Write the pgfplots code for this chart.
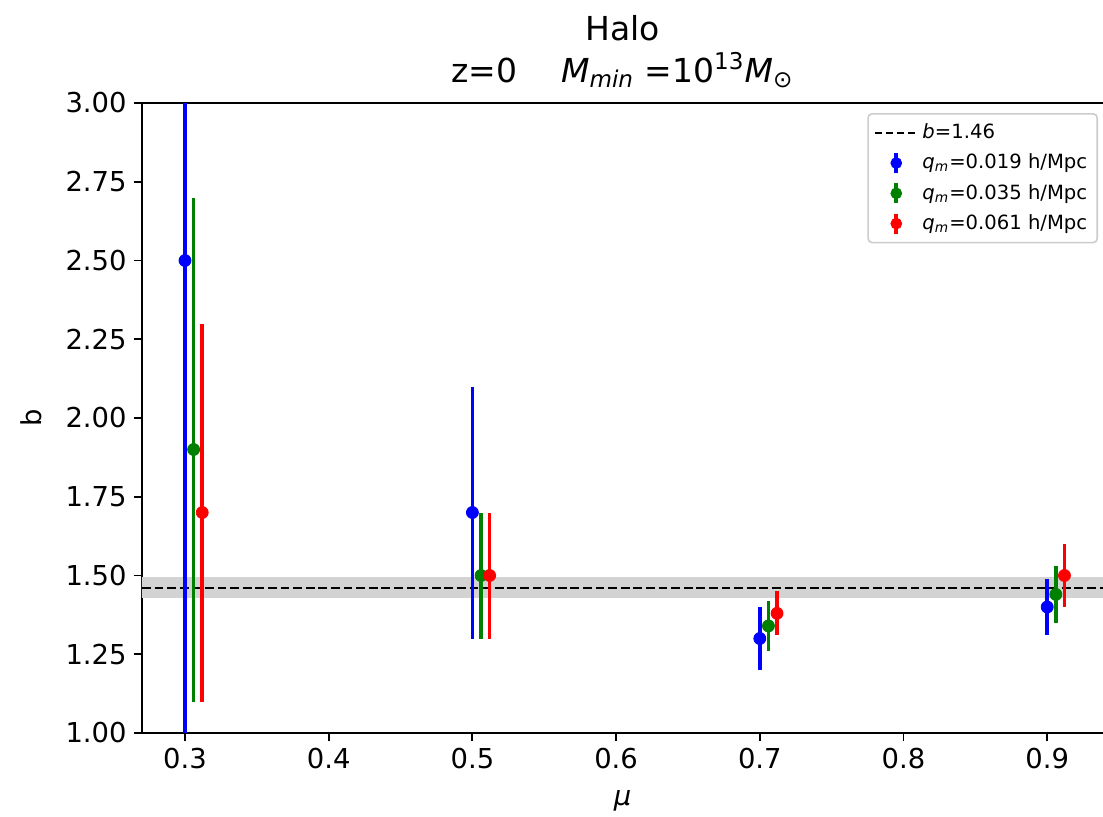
\documentclass[border=0pt]{standalone}
\usepackage{pgfplots}
\pgfplotsset{compat=1.18}
\usepackage{fontspec}
\setmainfont{DejaVu Sans}
\usetikzlibrary{calc}
\definecolor{mblue}{RGB}{0,0,255}
\definecolor{mgreen}{RGB}{0,128,0}
\definecolor{mred}{RGB}{255,0,0}
\definecolor{band}{RGB}{211,211,211}
\definecolor{legframe}{RGB}{204,204,204}

\pgfplotstableread{
x y e
0.300 2.50 1.50
0.500 1.70 0.40
0.700 1.30 0.10
0.900 1.40 0.09
}\blue
\pgfplotstableread{
x y e
0.306 1.90 0.80
0.506 1.50 0.20
0.706 1.34 0.08
0.906 1.44 0.09
}\green
\pgfplotstableread{
x y e
0.312 1.70 0.60
0.512 1.50 0.20
0.712 1.38 0.07
0.912 1.50 0.10
}\red

\begin{document}
\begin{tikzpicture}
\begin{axis}[
  scale only axis,
  width=480.5pt, height=315pt,
  xmin=0.27008, xmax=0.93883,
  ymin=1, ymax=3,
  axis x line*=box, axis y line*=left,
  xtick={0.3,0.4,...,0.9},
  ytick={1,1.25,...,3},
  xtick pos=bottom, ytick pos=left,
  tick align=outside,
  major tick length=4.2pt,
  every tick/.style={black, line width=0.96pt},
  axis line style={line width=0.96pt},
  /pgf/number format/assume math mode=true,
  xticklabel style={/pgf/number format/.cd, fixed, fixed zerofill, precision=1},
  yticklabel style={/pgf/number format/.cd, fixed, fixed zerofill, precision=2},
  tick label style={font=\fontsize{13.7}{16}\selectfont},
  label style={font=\fontsize{13.7}{16}\selectfont},
  xlabel={\textit{μ}},
  xlabel style={yshift=-4pt},
  ylabel={b},
  ylabel style={yshift=5pt},
  title={Halo\\z=0\quad\ \textit{M}\textsubscript{\textit{min}} =10\textsuperscript{13}\textit{M}\textsubscript{⊙}},
  title style={align=center, font=\fontsize{16.5}{21}\selectfont, yshift=-2pt},
  legend style={at={(1,1)}, anchor=north east, xshift=-2.5pt, yshift=-5pt,
    draw=legframe, rounded corners=2pt, line width=0.8pt,
    font=\fontsize{9.8}{12}\selectfont, row sep=2.2pt, inner sep=3pt},
  legend cell align=left,
  error bars/y dir=both, error bars/y explicit,
  error bars/error mark=none,
]
\addplot[draw=none, fill=band, forget plot] coordinates {(0.2,1.43) (1,1.43) (1,1.495) (0.2,1.495)} -- cycle;
\addplot[black, line width=1.2pt, dash pattern=on 4.4pt off 1.9pt,
  legend image code/.code={\draw[dash pattern=on 3.5pt off 2pt] (0pt,0pt) -- (21pt,0pt);}] coordinates {(0.2,1.46) (1,1.46)};
\addlegendentry{\textit{b}=1.46}
\addplot[only marks, mark=*, mark size=3pt, color=mblue,
  error bars/error bar style={line width=1.8pt, mblue},
  legend image code/.code={\draw[line width=1.8pt] (10.5pt,-5pt) -- (10.5pt,5pt); \fill (10.5pt,0pt) circle (2.5pt);}]
  table[x=x, y=y, y error=e] {\blue};
\addlegendentry{\textit{q}\textsubscript{\textit{m}}=0.019 h/Mpc}
\addplot[only marks, mark=*, mark size=3pt, color=mgreen,
  error bars/error bar style={line width=1.8pt, mgreen},
  legend image code/.code={\draw[line width=1.8pt] (10.5pt,-5pt) -- (10.5pt,5pt); \fill (10.5pt,0pt) circle (2.5pt);}]
  table[x=x, y=y, y error=e] {\green};
\addlegendentry{\textit{q}\textsubscript{\textit{m}}=0.035 h/Mpc}
\addplot[only marks, mark=*, mark size=3pt, color=mred,
  error bars/error bar style={line width=1.8pt, mred},
  legend image code/.code={\draw[line width=1.8pt] (10.5pt,-5pt) -- (10.5pt,5pt); \fill (10.5pt,0pt) circle (2.5pt);}]
  table[x=x, y=y, y error=e] {\red};
\addlegendentry{\textit{q}\textsubscript{\textit{m}}=0.061 h/Mpc}
\end{axis}
\pgfresetboundingbox
\path[use as bounding box] ($(current axis.south west)+(-71pt,-41.5pt)$) rectangle ($(current axis.north east)+(0pt,51.5pt)$);
\end{tikzpicture}
\end{document}
